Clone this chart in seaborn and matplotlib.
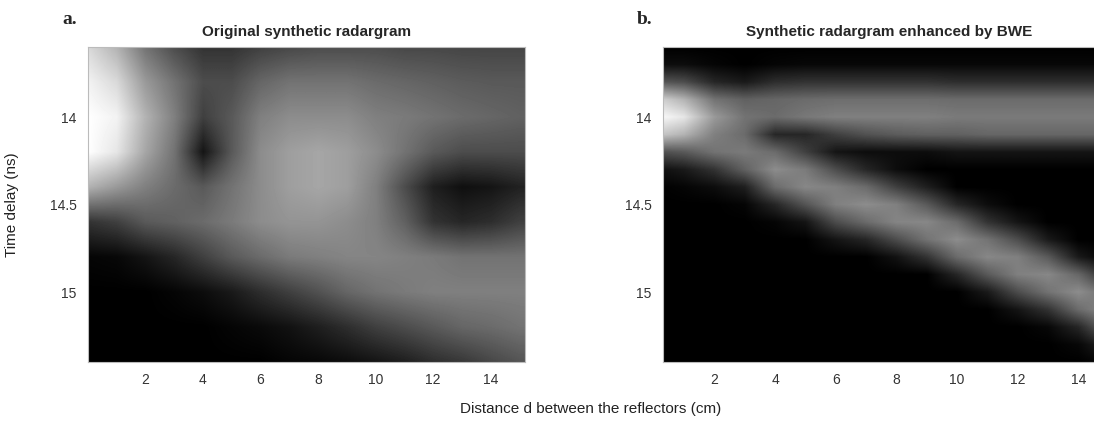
import numpy as np
import matplotlib
matplotlib.use("Agg")
import matplotlib.pyplot as plt
import seaborn as sns

# panel a: original radargram, rows are time delay 13.6..15.4 step 0.2, cols distance 0..15
orig_delay = [13.6, 13.8, 14.0, 14.2, 14.4, 14.6, 14.8, 15.0, 15.2, 15.4]
orig_dist = list(range(16))
orig_vals = [
    [0.85, 0.7, 0.45, 0.3, 0.2, 0.2, 0.25, 0.28, 0.3, 0.3, 0.3, 0.28, 0.28, 0.27, 0.27, 0.27],
    [0.95, 0.85, 0.6, 0.45, 0.3, 0.3, 0.4, 0.45, 0.45, 0.45, 0.42, 0.4, 0.38, 0.36, 0.35, 0.35],
    [1.0, 0.95, 0.7, 0.5, 0.25, 0.35, 0.5, 0.55, 0.55, 0.55, 0.5, 0.48, 0.45, 0.42, 0.4, 0.38],
    [1.0, 0.9, 0.65, 0.45, 0.08, 0.35, 0.55, 0.62, 0.65, 0.62, 0.55, 0.45, 0.35, 0.3, 0.3, 0.3],
    [0.7, 0.6, 0.5, 0.42, 0.35, 0.45, 0.55, 0.62, 0.65, 0.62, 0.5, 0.3, 0.12, 0.06, 0.08, 0.13],
    [0.2, 0.25, 0.35, 0.38, 0.42, 0.48, 0.55, 0.58, 0.58, 0.55, 0.5, 0.38, 0.2, 0.15, 0.18, 0.25],
    [0.02, 0.03, 0.08, 0.15, 0.25, 0.35, 0.42, 0.48, 0.5, 0.52, 0.52, 0.5, 0.48, 0.45, 0.45, 0.45],
    [0, 0, 0, 0.02, 0.05, 0.1, 0.18, 0.25, 0.32, 0.4, 0.45, 0.48, 0.5, 0.5, 0.5, 0.5],
    [0, 0, 0, 0, 0, 0.02, 0.04, 0.07, 0.12, 0.18, 0.25, 0.3, 0.35, 0.4, 0.42, 0.45],
    [0, 0, 0, 0, 0, 0, 0, 0.02, 0.03, 0.05, 0.08, 0.12, 0.18, 0.22, 0.28, 0.33],
]

# panel b: BWE enhanced, rows 13.6..15.4 step 0.1
bwe_delay = [round(13.6 + 0.1 * i, 1) for i in range(19)]
bwe_vals = [
    [0] * 16,
    [0.05, 0.05, 0.02, 0, 0.02, 0.03, 0.03, 0.03, 0.03, 0.03, 0.03, 0.03, 0.03, 0.03, 0.03, 0.03],
    [0.35, 0.3, 0.15, 0.1, 0.18, 0.2, 0.2, 0.2, 0.2, 0.2, 0.18, 0.18, 0.18, 0.18, 0.18, 0.18],
    [0.85, 0.7, 0.45, 0.38, 0.4, 0.42, 0.43, 0.43, 0.43, 0.43, 0.42, 0.42, 0.42, 0.42, 0.42, 0.42],
    [1.0, 0.9, 0.6, 0.45, 0.42, 0.47, 0.5, 0.5, 0.5, 0.5, 0.48, 0.48, 0.48, 0.48, 0.48, 0.48],
    [0.8, 0.7, 0.5, 0.42, 0.15, 0.15, 0.25, 0.32, 0.36, 0.38, 0.38, 0.4, 0.4, 0.4, 0.4, 0.4],
    [0.3, 0.35, 0.45, 0.48, 0.42, 0.25, 0.08, 0.05, 0.05, 0.05, 0.08, 0.08, 0.08, 0.08, 0.08, 0.08],
    [0.05, 0.1, 0.2, 0.38, 0.55, 0.48, 0.3, 0.15, 0.05, 0, 0, 0, 0, 0, 0, 0],
    [0, 0.02, 0.05, 0.12, 0.42, 0.53, 0.5, 0.42, 0.25, 0.12, 0, 0, 0, 0, 0, 0],
    [0, 0, 0, 0.02, 0.15, 0.33, 0.5, 0.55, 0.5, 0.35, 0.15, 0.05, 0, 0, 0, 0],
    [0, 0, 0, 0, 0.02, 0.08, 0.3, 0.42, 0.52, 0.53, 0.42, 0.2, 0.08, 0, 0, 0],
    [0, 0, 0, 0, 0, 0, 0.08, 0.15, 0.3, 0.45, 0.55, 0.45, 0.3, 0.1, 0, 0],
    [0, 0, 0, 0, 0, 0, 0, 0, 0.07, 0.2, 0.42, 0.53, 0.5, 0.35, 0.1, 0],
    [0, 0, 0, 0, 0, 0, 0, 0, 0, 0, 0.15, 0.35, 0.5, 0.53, 0.4, 0.15],
    [0, 0, 0, 0, 0, 0, 0, 0, 0, 0, 0, 0.1, 0.3, 0.45, 0.55, 0.42],
    [0, 0, 0, 0, 0, 0, 0, 0, 0, 0, 0, 0, 0.08, 0.2, 0.42, 0.55],
    [0, 0, 0, 0, 0, 0, 0, 0, 0, 0, 0, 0, 0, 0.03, 0.15, 0.42],
    [0, 0, 0, 0, 0, 0, 0, 0, 0, 0, 0, 0, 0, 0, 0.03, 0.15],
    [0, 0, 0, 0, 0, 0, 0, 0, 0, 0, 0, 0, 0, 0, 0, 0.03],
]

x_ticks = [2, 4, 6, 8, 10, 12, 14]
y_ticks = [14, 14.5, 15]
y_ticklabels = ["14", "14.5", "15"]

sns.set_theme(style="white")
plt.rcParams['font.family'] = ['Liberation Sans', 'DejaVu Sans']

fig = plt.figure(figsize=(10.94, 4.32), dpi=100)
ax_a = fig.add_axes([0.0804, 0.162, 0.3995, 0.729])
ax_b = fig.add_axes([0.606, 0.162, 0.413, 0.729])


def draw(ax, vals, delay, dist, xlim, title):
    dy = (delay[1] - delay[0]) / 2
    ax.imshow(np.array(vals), cmap="gray", vmin=0, vmax=1, aspect="auto",
              interpolation="bilinear",
              extent=[dist[0] - 0.5, dist[-1] + 0.5, delay[-1] + dy, delay[0] - dy])
    ax.set_xlim(*xlim)
    ax.set_ylim(15.4, 13.6)
    ax.set_xticks(x_ticks)
    ax.set_yticks(y_ticks)
    ax.set_yticklabels(y_ticklabels)
    ax.tick_params(length=0, labelsize=10, colors="#333333", pad=8)
    for s in ax.spines.values():
        s.set_color("#bbbbbb")
        s.set_linewidth(0.8)
    ax.set_title(title, fontsize=11, fontweight="bold", pad=8)


draw(ax_a, orig_vals, orig_delay, orig_dist, (0.0, 15.2), "Original synthetic radargram")
draw(ax_b, bwe_vals, bwe_delay, orig_dist, (0.3, 15.2), "Synthetic radargram enhanced by BWE")

ax_a.set_ylabel("Time delay (ns)", fontsize=11, color="#222222", labelpad=22)
fig.text(0.54, 0.045, "Distance d between the reflectors (cm)", ha="center",
         fontsize=11, color="#222222")
fig.text(0.057, 0.955, "a.", fontsize=14, fontweight="bold", family="Liberation Serif", va="center")
fig.text(0.582, 0.955, "b.", fontsize=14, fontweight="bold", family="Liberation Serif", va="center")

fig.savefig("out.png", dpi=100)
